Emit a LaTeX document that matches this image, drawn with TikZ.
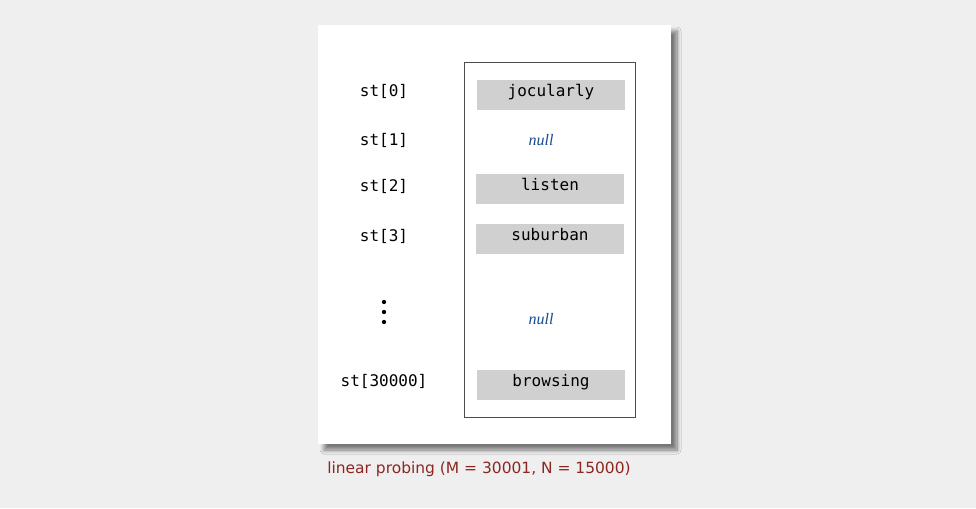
\documentclass[tikz,border=0pt]{standalone}
\usepackage{fontspec}
\setmainfont{Liberation Serif}
\setsansfont{DejaVu Sans}
\setmonofont{DejaVu Sans Mono}
\usetikzlibrary{positioning, shadows.blur}
\definecolor{pagebg}{RGB}{239,239,239}
\definecolor{slotgray}{RGB}{208,208,208}
\definecolor{nullblue}{RGB}{25,75,145}
\definecolor{captionred}{RGB}{140,38,34}
\tikzset{
    panel/.style={draw=none, fill=white, blur shadow={shadow xshift=4.5pt, shadow yshift=-4.5pt, shadow blur steps=10, shadow blur radius=3pt, shadow opacity=50}},
    tablebox/.style={draw=black!70, fill=white, line width=0.6pt},
    index/.style={font=\fontsize{12}{14}\selectfont\ttfamily, inner sep=0pt},
    slot/.style={rectangle, fill=slotgray, minimum width=111pt, minimum height=22.5pt, inner sep=0pt, text height=0.75em, text depth=0.6em, font=\fontsize{12}{14}\selectfont\ttfamily},
    nullentry/.style={font=\fontsize{12}{14}\selectfont\itshape, text=nullblue, inner sep=0pt},
    caption/.style={font=\fontsize{11.6}{14}\selectfont\sffamily, text=captionred, inner sep=0pt}
}

\begin{document}
\begin{tikzpicture}[x=0.75pt, y=-0.75pt]

    % --- FOND ---
    \fill[pagebg] (0,0) rectangle (976,508);
    \useasboundingbox (0,0) rectangle (976,508);
    \path[panel] (318,25) rectangle (671,444);
    \path[tablebox] (464,62) rectangle (635,417);

    % --- INDICES ---
    \node (st0) [index] at (384,91) {st[0]};
    \node (st1) [index] at (384,140) {st[1]};
    \node (st2) [index] at (384,186) {st[2]};
    \node (st3) [index] at (384,236) {st[3]};
    \node (stlast) [index] at (384,381) {st[30000]};
    \foreach \y in {302,312,322} \fill (384,\y) circle (1.6pt);

    % --- CASES ---
    \node (key0) [slot] at (551,95) {jocularly};
    \node (key1) [nullentry] at (541,140) {null};
    \node (key2) [slot] at (550,189) {listen};
    \node (key3) [slot] at (550,239) {suburban};
    \node (keygap) [nullentry] at (541,319) {null};
    \node (keylast) [slot] at (551,385) {browsing};

    % --- LEGENDE ---
    \node (legend) [caption] at (479,469) {linear probing (M = 30001, N = 15000)};

\end{tikzpicture}
\end{document}
